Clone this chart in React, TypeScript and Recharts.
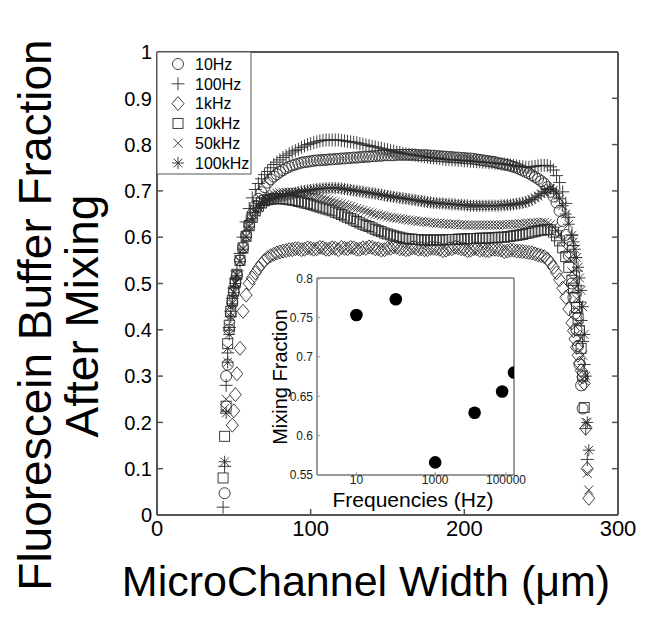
import React from "react";
import { ScatterChart, Scatter, XAxis, YAxis, ReferenceLine } from "recharts";

// channel positions (um): 1 um steps on the steep edges, 2 um in between
const widthUm = [
  43, 44, 45, 46, 47, 48, 49, 50, 51, 52,
  54, 56, 58, 60, 62, 64, 66, 68, 70,
  72, 74, 76, 78, 80, 82, 84, 86, 88, 90,
  92, 94, 96, 98, 100, 102, 104, 106, 108, 110,
  112, 114, 116, 118, 120, 122, 124, 126, 128, 130,
  132, 134, 136, 138, 140, 142, 144, 146, 148, 150,
  152, 154, 156, 158, 160, 162, 164, 166, 168, 170,
  172, 174, 176, 178, 180, 182, 184, 186, 188, 190,
  192, 194, 196, 198, 200, 202, 204, 206, 208, 210,
  212, 214, 216, 218, 220, 222, 224, 226, 228, 230,
  232, 234, 236, 238, 240, 242, 244, 246, 248,
  250, 252, 254, 256, 258, 260, 262, 264, 266, 268, 270,
  271, 272, 273, 274, 275, 276, 277, 278, 279, 280, 281,
];

const hz10 = [
  null, 0.047, 0.3, 0.325, 0.4, 0.435, 0.46, 0.482, 0.502, 0.518,
  0.55, 0.578, 0.604, 0.628, 0.65, 0.668, 0.683, 0.697, 0.708,
  0.718, 0.725, 0.731, 0.736, 0.741, 0.745, 0.749, 0.752, 0.755, 0.757,
  0.759, 0.761, 0.762, 0.763, 0.764, 0.765, 0.766, 0.766, 0.767, 0.767,
  0.768, 0.768, 0.769, 0.769, 0.77, 0.77, 0.771, 0.771, 0.772, 0.772,
  0.773, 0.773, 0.774, 0.774, 0.775, 0.775, 0.776, 0.776, 0.777, 0.777,
  0.777, 0.777, 0.778, 0.778, 0.778, 0.778, 0.778, 0.778, 0.778, 0.777,
  0.777, 0.777, 0.777, 0.776, 0.776, 0.775, 0.775, 0.774, 0.774, 0.773,
  0.773, 0.772, 0.772, 0.771, 0.771, 0.77, 0.77, 0.769, 0.768, 0.767,
  0.766, 0.765, 0.764, 0.763, 0.762, 0.76, 0.759, 0.757, 0.756, 0.754,
  0.752, 0.75, 0.747, 0.744, 0.741, 0.738, 0.734, 0.73, 0.726,
  0.721, 0.716, 0.708, 0.698, 0.688, 0.675, 0.657, 0.635, 0.605, 0.56, 0.5,
  0.47, 0.435, 0.4, 0.365, 0.325, 0.28, 0.23, null, null, null, null,
];

const hz100 = [
  0.017, 0.105, 0.28, 0.35, 0.405, 0.44, 0.468, 0.49, 0.51, 0.527,
  0.565, 0.6, 0.633, 0.662, 0.685, 0.703, 0.716, 0.726, 0.735,
  0.742, 0.75, 0.757, 0.762, 0.767, 0.772, 0.776, 0.78, 0.784, 0.787,
  0.79, 0.794, 0.797, 0.8, 0.802, 0.804, 0.806, 0.808, 0.809, 0.81,
  0.81, 0.81, 0.81, 0.81, 0.809, 0.808, 0.807, 0.806, 0.805, 0.804,
  0.802, 0.801, 0.799, 0.798, 0.796, 0.795, 0.793, 0.792, 0.79, 0.789,
  0.787, 0.786, 0.784, 0.783, 0.781, 0.78, 0.779, 0.778, 0.777, 0.776,
  0.775, 0.774, 0.773, 0.772, 0.771, 0.771, 0.77, 0.769, 0.768, 0.768,
  0.767, 0.767, 0.766, 0.766, 0.765, 0.765, 0.764, 0.764, 0.763, 0.763,
  0.762, 0.762, 0.761, 0.761, 0.76, 0.759, 0.758, 0.758, 0.757, 0.756,
  0.755, 0.754, 0.753, 0.752, 0.751, 0.751, 0.752, 0.753, 0.754,
  0.755, 0.755, 0.755, 0.752, 0.745, 0.733, 0.718, 0.698, 0.673, 0.643, 0.605,
  0.582, 0.556, 0.527, 0.495, 0.46, 0.42, 0.375, 0.325, 0.187, 0.12, null,
];

const khz1 = [
  null, null, null, null, null, null, 0.194, 0.225, 0.26, 0.305,
  0.36, 0.44, 0.475, 0.5, 0.512, 0.523, 0.533, 0.542, 0.55,
  0.556, 0.56, 0.563, 0.566, 0.568, 0.57, 0.571, 0.573, 0.573, 0.575,
  0.575, 0.573, 0.574, 0.577, 0.576, 0.574, 0.575, 0.578, 0.577, 0.574,
  0.574, 0.577, 0.576, 0.573, 0.578, 0.576, 0.575, 0.578, 0.577, 0.574,
  0.574, 0.577, 0.576, 0.579, 0.578, 0.575, 0.575, 0.572, 0.573, 0.576,
  0.576, 0.579, 0.578, 0.575, 0.575, 0.573, 0.574, 0.577, 0.577, 0.574,
  0.575, 0.573, 0.573, 0.576, 0.576, 0.575, 0.574, 0.571, 0.572, 0.575,
  0.575, 0.578, 0.577, 0.575, 0.574, 0.571, 0.572, 0.575, 0.575, 0.572,
  0.573, 0.571, 0.571, 0.574, 0.574, 0.573, 0.572, 0.569, 0.57, 0.572,
  0.572, 0.57, 0.57, 0.569, 0.568, 0.567, 0.566, 0.564, 0.562,
  0.56, 0.558, 0.553, 0.545, 0.535, 0.523, 0.508, 0.49, 0.47, 0.445, 0.415,
  0.398, 0.38, 0.362, 0.345, 0.328, 0.312, 0.298, 0.284, 0.187, 0.1, 0.036,
];

const khz10 = [
  0.08, 0.17, 0.235, 0.37, 0.41, 0.44, 0.463, 0.484, 0.503, 0.52,
  0.55, 0.577, 0.602, 0.625, 0.643, 0.657, 0.667, 0.674, 0.679,
  0.681, 0.682, 0.683, 0.683, 0.683, 0.683, 0.682, 0.681, 0.68, 0.679,
  0.677, 0.676, 0.674, 0.673, 0.671, 0.669, 0.667, 0.665, 0.663, 0.661,
  0.659, 0.657, 0.654, 0.652, 0.649, 0.646, 0.643, 0.64, 0.637, 0.634,
  0.631, 0.628, 0.625, 0.623, 0.62, 0.617, 0.614, 0.612, 0.609, 0.607,
  0.605, 0.603, 0.601, 0.6, 0.598, 0.597, 0.596, 0.596, 0.595, 0.595,
  0.594, 0.594, 0.594, 0.594, 0.594, 0.594, 0.594, 0.594, 0.595, 0.595,
  0.595, 0.595, 0.596, 0.596, 0.596, 0.597, 0.597, 0.597, 0.597, 0.598,
  0.598, 0.598, 0.598, 0.599, 0.599, 0.6, 0.6, 0.6, 0.601, 0.602,
  0.603, 0.604, 0.605, 0.606, 0.608, 0.609, 0.611, 0.612, 0.614,
  0.615, 0.616, 0.617, 0.616, 0.611, 0.603, 0.592, 0.577, 0.558, 0.535, 0.507,
  0.49, 0.47, 0.448, 0.425, 0.398, 0.36, 0.3, 0.232, null, null, null,
];

const khz50 = [
  null, 0.23, 0.25, 0.36, 0.405, 0.437, 0.46, 0.482, 0.502, 0.519,
  0.549, 0.576, 0.602, 0.625, 0.644, 0.659, 0.671, 0.679, 0.685,
  0.689, 0.691, 0.693, 0.695, 0.696, 0.697, 0.697, 0.697, 0.697, 0.697,
  0.696, 0.695, 0.694, 0.693, 0.691, 0.69, 0.688, 0.686, 0.684, 0.682,
  0.68, 0.678, 0.676, 0.674, 0.672, 0.67, 0.668, 0.666, 0.664, 0.662,
  0.66, 0.658, 0.656, 0.654, 0.652, 0.65, 0.649, 0.647, 0.646, 0.644,
  0.643, 0.642, 0.641, 0.64, 0.639, 0.638, 0.637, 0.636, 0.635, 0.634,
  0.634, 0.633, 0.632, 0.632, 0.631, 0.63, 0.63, 0.629, 0.629, 0.628,
  0.628, 0.628, 0.627, 0.627, 0.627, 0.626, 0.626, 0.626, 0.626, 0.626,
  0.626, 0.626, 0.626, 0.626, 0.626, 0.626, 0.627, 0.627, 0.627, 0.628,
  0.628, 0.628, 0.629, 0.629, 0.63, 0.63, 0.631, 0.631, 0.632,
  0.632, 0.632, 0.63, 0.627, 0.622, 0.615, 0.605, 0.592, 0.575, 0.553, 0.525,
  0.508, 0.489, 0.467, 0.443, 0.415, 0.383, 0.345, 0.29, 0.2, 0.09, 0.054,
];

const khz100 = [
  null, 0.115, 0.22, 0.33, 0.39, 0.428, 0.456, 0.48, 0.5, 0.517,
  0.547, 0.574, 0.6, 0.622, 0.64, 0.654, 0.664, 0.671, 0.676,
  0.679, 0.682, 0.684, 0.686, 0.688, 0.69, 0.691, 0.693, 0.694, 0.696,
  0.697, 0.699, 0.7, 0.701, 0.702, 0.703, 0.704, 0.705, 0.705, 0.706,
  0.706, 0.706, 0.706, 0.706, 0.705, 0.704, 0.703, 0.702, 0.701, 0.7,
  0.699, 0.698, 0.697, 0.696, 0.695, 0.694, 0.693, 0.692, 0.69, 0.689,
  0.688, 0.687, 0.686, 0.685, 0.684, 0.683, 0.682, 0.681, 0.68, 0.679,
  0.678, 0.677, 0.676, 0.675, 0.674, 0.674, 0.673, 0.673, 0.672, 0.672,
  0.671, 0.671, 0.67, 0.67, 0.669, 0.669, 0.668, 0.668, 0.668, 0.668,
  0.668, 0.668, 0.668, 0.668, 0.668, 0.668, 0.669, 0.669, 0.67, 0.67,
  0.671, 0.672, 0.673, 0.674, 0.676, 0.678, 0.681, 0.685, 0.689,
  0.694, 0.698, 0.703, 0.705, 0.702, 0.695, 0.683, 0.668, 0.65, 0.628, 0.604,
  0.59, 0.574, 0.556, 0.535, 0.512, 0.485, 0.45, 0.39, 0.3, 0.2, 0.14,
];

// inset: mixing fraction per drive frequency
const freqHz = [10, 100, 1000, 10000, 50000, 100000];
const mixingFraction = [0.753, 0.773, 0.566, 0.629, 0.656, 0.68];

const xTicks = [0, 100, 200, 300];
const yTicks = [0, 0.1, 0.2, 0.3, 0.4, 0.5, 0.6, 0.7, 0.8, 0.9, 1];
const yTickLabels = ["0", "0.1", "0.2", "0.3", "0.4", "0.5", "0.6", "0.7", "0.8", "0.9", "1"];
const insetXTicks = [10, 1000, 100000];
const insetYTicks = [0.55, 0.6, 0.65, 0.7, 0.75, 0.8];
const insetYLabels = ["0.55", "0.6", "0.65", "0.7", "0.75", "0.8"];

const series = [
  { name: "10Hz", kind: "circle", values: hz10 },
  { name: "100Hz", kind: "plus", values: hz100 },
  { name: "1kHz", kind: "diamond", values: khz1 },
  { name: "10kHz", kind: "square", values: khz10 },
  { name: "50kHz", kind: "cross", values: khz50 },
  { name: "100kHz", kind: "star", values: khz100 },
];

const FONT = '"Liberation Sans", Arial, sans-serif';
const INK = "#2a2a2a";
const AXIS = "#555";

function Marker({ kind, cx, cy }: { kind: string; cx: number; cy: number }) {
  const p = { fill: "none", stroke: INK, strokeWidth: 0.9 };
  if (cx == null || cy == null) return null;
  switch (kind) {
    case "circle":
      return <circle cx={cx} cy={cy} r={5.5} {...p} />;
    case "plus":
      return <path d={`M${cx - 6.5},${cy}H${cx + 6.5}M${cx},${cy - 6.5}V${cy + 6.5}`} {...p} />;
    case "diamond":
      return <path d={`M${cx},${cy - 7}L${cx + 6},${cy}L${cx},${cy + 7}L${cx - 6},${cy}Z`} {...p} />;
    case "square":
      return <rect x={cx - 5} y={cy - 5} width={10} height={10} {...p} />;
    case "cross":
      return <path d={`M${cx - 4.5},${cy - 4.5}L${cx + 4.5},${cy + 4.5}M${cx - 4.5},${cy + 4.5}L${cx + 4.5},${cy - 4.5}`} {...p} />;
    default:
      return (
        <path
          d={`M${cx - 6},${cy}H${cx + 6}M${cx},${cy - 6}V${cy + 6}M${cx - 4.3},${cy - 4.3}L${cx + 4.3},${cy + 4.3}M${cx - 4.3},${cy + 4.3}L${cx + 4.3},${cy - 4.3}`}
          {...p}
        />
      );
  }
}

// inward tick marks drawn together with the outside labels
const LeftTick = (props: any) => {
  const { x, y, payload } = props;
  const i = yTicks.indexOf(payload.value);
  return (
    <g>
      <path d={`M${x},${y}h6`} stroke={AXIS} strokeWidth={1.5} />
      <text x={x - 5} y={y} dy="0.36em" textAnchor="end" fontSize={20} fontFamily={FONT} fill="#000">
        {i >= 0 ? yTickLabels[i] : payload.value}
      </text>
    </g>
  );
};

const BottomTick = (props: any) => {
  const { x, y, payload } = props;
  return (
    <g>
      <path d={`M${x},${y}v-6`} stroke={AXIS} strokeWidth={1.5} />
      <text x={x} y={y + 21} textAnchor="middle" fontSize={22} fontFamily={FONT} fill="#000">
        {payload.value}
      </text>
    </g>
  );
};

const RightTick = (props: any) => {
  const { x, y } = props;
  return <path d={`M${x},${y}h-6`} stroke={AXIS} strokeWidth={1.5} />;
};

const TopTick = (props: any) => {
  const { x, y } = props;
  return <path d={`M${x},${y}v6`} stroke={AXIS} strokeWidth={1.5} />;
};

const InsetLeftTick = (props: any) => {
  const { x, y, payload } = props;
  const i = insetYTicks.indexOf(payload.value);
  return (
    <g>
      <path d={`M${x},${y}h3`} stroke="#999" />
      <text x={x - 4} y={y} dy="0.36em" textAnchor="end" fontSize={12} fontFamily={FONT} fill="#222">
        {i >= 0 ? insetYLabels[i] : payload.value}
      </text>
    </g>
  );
};

const InsetBottomTick = (props: any) => {
  const { x, y, payload } = props;
  return (
    <g>
      <path d={`M${x},${y}v-3`} stroke="#999" />
      <text x={x} y={y + 9} textAnchor="middle" fontSize={12} fontFamily={FONT} fill="#222">
        {payload.value}
      </text>
    </g>
  );
};

function Overlay() {
  return (
    <svg width={657} height={621} style={{ position: "absolute", left: 0, top: 0, pointerEvents: "none" }}>
      <rect x={157} y={52} width={94} height={122} fill="#fff" stroke={AXIS} strokeWidth={1} />
      {series.map((s, i) => (
        <g key={s.name}>
          <Marker kind={s.kind} cx={178} cy={64 + i * 19.8} />
          <text x={195} y={64 + i * 19.8} dy="0.36em" fontSize={16} fontFamily={FONT} fill="#000">
            {s.name}
          </text>
        </g>
      ))}
      <text transform="rotate(-90 51 315)" x={51} y={315} textAnchor="middle" fontSize={46} fontFamily={FONT} fill="#000">
        Fluorescein Buffer Fraction
      </text>
      <text transform="rotate(-90 98 316)" x={98} y={316} textAnchor="middle" fontSize={46} fontFamily={FONT} fill="#000">
        After Mixing
      </text>
      <text x={366} y={596} textAnchor="middle" fontSize={43} fontFamily={FONT} fill="#000">
        MicroChannel Width (μm)
      </text>
      <text transform="rotate(-90 287 377)" x={287} y={377} textAnchor="middle" fontSize={20} fontFamily={FONT} fill="#000">
        Mixing Fraction
      </text>
      <text x={413} y={507} textAnchor="middle" fontSize={21} fontFamily={FONT} fill="#000">
        Frequencies (Hz)
      </text>
    </svg>
  );
}

export default function App() {
  const insetData = freqHz.map((f, i) => ({ f, m: mixingFraction[i] }));
  return (
    <div style={{ position: "absolute", left: 0, top: 0, width: 657, height: 621, background: "#fff" }}>
      <ScatterChart width={657} height={621} margin={{ top: 50, right: 37, bottom: 0, left: 0 }}>
        <XAxis
          type="number"
          dataKey="x"
          domain={[0, 300]}
          ticks={xTicks}
          height={106}
          tickSize={0}
          tickMargin={0}
          tickLine={false}
          tick={<BottomTick />}
          axisLine={false}
          allowDataOverflow
        />
        <XAxis
          xAxisId="top"
          orientation="top"
          type="number"
          domain={[0, 300]}
          ticks={xTicks}
          height={2}
          tickSize={0}
          tickMargin={0}
          tickLine={false}
          axisLine={false}
          tick={<TopTick />}
          allowDataOverflow
        />
        <YAxis
          type="number"
          dataKey="y"
          domain={[0, 1]}
          ticks={yTicks}
          width={157}
          tickSize={0}
          tickMargin={0}
          tickLine={false}
          tick={<LeftTick />}
          axisLine={false}
          allowDataOverflow
        />
        <YAxis
          yAxisId="right"
          orientation="right"
          type="number"
          domain={[0, 1]}
          ticks={yTicks}
          width={2}
          tickSize={0}
          tickMargin={0}
          tickLine={false}
          axisLine={false}
          tick={<RightTick />}
          allowDataOverflow
        />
        {series.map((s) => (
          <Scatter
            key={s.name}
            name={s.name}
            data={widthUm
              .map((x, i) => ({ x, y: s.values[i] }))
              .filter((d) => d.y != null)}
            isAnimationActive={false}
            shape={(p: any) => <Marker kind={s.kind} cx={p.cx} cy={p.cy} />}
          />
        ))}
        <ReferenceLine x={0} stroke={AXIS} strokeWidth={2} ifOverflow="visible" />
        <ReferenceLine x={300} stroke={AXIS} strokeWidth={2} ifOverflow="visible" />
        <ReferenceLine y={0} stroke={AXIS} strokeWidth={2} ifOverflow="visible" />
        <ReferenceLine y={1} stroke={AXIS} strokeWidth={2} ifOverflow="visible" />
      </ScatterChart>

      <div style={{ position: "absolute", left: 250, top: 270 }}>
        <ScatterChart width={280} height={250} margin={{ top: 8, right: 16, bottom: 0, left: 0 }}>
          <XAxis
            type="number"
            dataKey="f"
            scale="log"
            domain={[1, 100000]}
            ticks={insetXTicks}
            height={45}
            tickSize={0}
            tickMargin={0}
            tickLine={false}
            tick={<InsetBottomTick />}
            axisLine={{ stroke: "#777" }}
            allowDataOverflow
          />
          <XAxis
            xAxisId="top"
            orientation="top"
            type="number"
            scale="log"
            domain={[1, 100000]}
            ticks={insetXTicks}
            height={1}
            mirror
            tick={false}
            tickSize={3}
            stroke="#777"
            allowDataOverflow
          />
          <YAxis
            type="number"
            dataKey="m"
            domain={[0.55, 0.8]}
            ticks={insetYTicks}
            width={67}
            tickSize={0}
            tickMargin={0}
            tickLine={false}
            tick={<InsetLeftTick />}
            axisLine={{ stroke: "#777" }}
            allowDataOverflow
          />
          <YAxis
            yAxisId="right"
            orientation="right"
            type="number"
            domain={[0.55, 0.8]}
            ticks={insetYTicks}
            width={1}
            mirror
            tick={false}
            tickSize={3}
            stroke="#777"
            allowDataOverflow
          />
          <ReferenceLine x={1} stroke="#777" />
          <ReferenceLine x={100000} stroke="#777" />
          <ReferenceLine y={0.55} stroke="#777" />
          <ReferenceLine y={0.8} stroke="#777" />
          <Scatter
            data={insetData}
            fill="#000"
            isAnimationActive={false}
            shape={(p: any) => <circle cx={p.cx} cy={p.cy} r={6.3} fill="#000" />}
          />
        </ScatterChart>
      </div>

      <Overlay />
    </div>
  );
}
